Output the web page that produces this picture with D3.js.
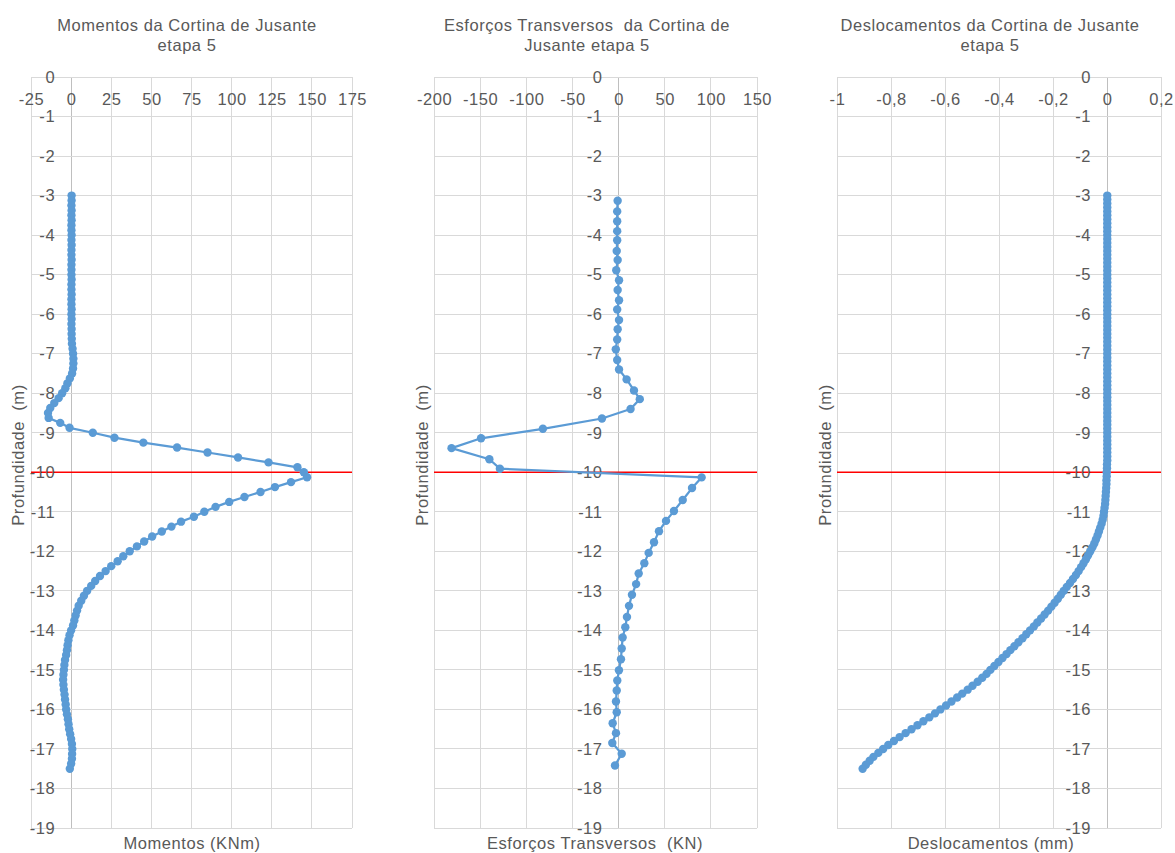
<!DOCTYPE html>
<html>
<head>
<meta charset="utf-8">
<script src="https://cdn.jsdelivr.net/npm/d3@7"></script>
<style>
  html, body { margin: 0; padding: 0; background: #fff; }
  svg { display: block; }
  text { font-family: "Liberation Sans", Arial, sans-serif; fill: #595959; white-space: pre; letter-spacing: 0.55px; }
</style>
</head>
<body>
<svg id="chart" width="1175" height="853"></svg>
<script>
// Depth ticks shared by the three profiles (m)
const depthTicks = [0, -1, -2, -3, -4, -5, -6, -7, -8, -9, -10, -11, -12, -13, -14, -15, -16, -17, -18, -19];
const cutDepth = -10;

// Bending moments (KNm) along the wall
const momentTicks = [-25, 0, 25, 50, 75, 100, 125, 150, 175];
const momentDepth = [
  -3, -3.125, -3.25, -3.375, -3.5, -3.625, -3.75, -3.875, -4, -4.125, -4.25, -4.375, -4.5, -4.625, -4.75, -4.875,
  -5, -5.125, -5.25, -5.375, -5.5, -5.625, -5.75, -5.875, -6, -6.125, -6.25, -6.375, -6.5, -6.625, -6.75, -6.875,
  -7, -7.125, -7.25, -7.375, -7.5, -7.625, -7.75, -7.875, -8, -8.125, -8.25, -8.375, -8.5, -8.625, -8.75, -8.875,
  -9, -9.125, -9.25, -9.375, -9.5, -9.625, -9.75, -9.875, -10, -10.125, -10.25, -10.375, -10.5, -10.625, -10.75, -10.875,
  -11, -11.125, -11.25, -11.375, -11.5, -11.625, -11.75, -11.875, -12, -12.125, -12.25, -12.375, -12.5, -12.625, -12.75, -12.875,
  -13, -13.125, -13.25, -13.375, -13.5, -13.625, -13.75, -13.875, -14, -14.125, -14.25, -14.375, -14.5, -14.625, -14.75, -14.875,
  -15, -15.125, -15.25, -15.375, -15.5, -15.625, -15.75, -15.875, -16, -16.125, -16.25, -16.375, -16.5, -16.625, -16.75, -16.875,
  -17, -17.125, -17.25, -17.375, -17.5
];
const momentValues = [
  0.3, 0.3, 0.2, 0.3, 0.2, 0.3, 0.2, 0.2, 0.3, 0.2, 0.3, 0.2, 0.2, 0.3, 0.2, 0.2,
  0.2, 0.3, 0.2, 0.2, 0.3, 0.2, 0.2, 0.3, 0.2, 0.3, 0.2, 0.3, 0.3, 0.4, 0.5, 0.9,
  1.2, 1.4, 1.4, 1.2, 0.6, -0.8, -2.3, -3.6, -5.6, -7.8, -10.5, -13, -14.4, -14, -6.8, -1,
  13.5, 27, 45, 66, 85, 104, 123, 141, 145, 147, 137, 127, 118, 108, 98.5, 90,
  83, 76.5, 68.5, 62.5, 56.5, 50.5, 45.5, 41, 36.5, 32.5, 29, 25, 21.5, 18, 15, 12.5,
  10, 8, 6.3, 4.7, 3.7, 2.8, 2, 1.2, 0, -1, -1.7, -2.2, -2.6, -3.1, -3.8, -4.2,
  -4.5, -4.8, -5, -4.8, -4.5, -4.1, -3.8, -3.4, -3.1, -2.6, -2, -1.6, -1.2, -0.6, 0, 0.5,
  0.7, 0.6, 0.5, 0, -0.8
];

// Shear forces (KN) along the wall
const shearTicks = [-200, -150, -100, -50, 0, 50, 100, 150];
const shearDepth = [
  -3.13, -3.4, -3.65, -3.9, -4.13, -4.4, -4.63, -4.89, -5.14, -5.39, -5.65, -5.88, -6.15, -6.38, -6.64, -6.89,
  -7.16, -7.4, -7.65, -7.93, -8.15, -8.4, -8.64, -8.9, -9.14, -9.39, -9.67, -9.91, -10.13, -10.4, -10.7, -10.98,
  -11.23, -11.49, -11.77, -12.04, -12.3, -12.56, -12.83, -13.1, -13.38, -13.66, -13.92, -14.18, -14.46, -14.73,
  -15.01, -15.27, -15.52, -15.8, -16.07, -16.35, -16.6, -16.85, -17.12, -17.42
];
const shearValues = [
  -1, -1.5, -1.5, -1.5, -1.5, -2, -1, -2.5, 0.5, -1, 0.5, -1.5, 0.5, -1, -1.5, -3,
  -1.5, 0.5, 8.7, 16.7, 23, 13, -18, -82, -149, -181, -140, -128.6, 90, 79.6, 69.5, 60,
  51.4, 43.8, 38.4, 32.6, 27.9, 21.8, 19, 14.5, 11.3, 9.1, 7.3, 4.4, 3.4, 2.6,
  0.4, -1.4, -2, -2.8, -2, -6.4, -2.8, -6.8, 3.4, -3.9
];

// Horizontal displacements (mm) along the wall
const dispTicks = [-1, -0.8, -0.6, -0.4, -0.2, 0, 0.2];
const dispDepth = [
  -3, -3.1, -3.2, -3.3, -3.4, -3.5, -3.6, -3.7, -3.8, -3.9, -4, -4.1, -4.2, -4.3, -4.4, -4.5, -4.6, -4.7, -4.8, -4.9,
  -5, -5.1, -5.2, -5.3, -5.4, -5.5, -5.6, -5.7, -5.8, -5.9, -6, -6.1, -6.2, -6.3, -6.4, -6.5, -6.6, -6.7, -6.8, -6.9,
  -7, -7.1, -7.2, -7.3, -7.4, -7.5, -7.6, -7.7, -7.8, -7.9, -8, -8.1, -8.2, -8.3, -8.4, -8.5, -8.6, -8.7, -8.8, -8.9,
  -9, -9.1, -9.2, -9.3, -9.4, -9.5, -9.6, -9.7, -9.8, -9.9, -10, -10.1, -10.2, -10.3, -10.4, -10.5, -10.6, -10.7, -10.8, -10.9,
  -11, -11.1, -11.2, -11.3, -11.4, -11.5, -11.6, -11.7, -11.8, -11.9, -12, -12.1, -12.2, -12.3, -12.4, -12.5, -12.6, -12.7, -12.8, -12.9,
  -13, -13.1, -13.2, -13.3, -13.4, -13.5, -13.6, -13.7, -13.8, -13.9, -14, -14.1, -14.2, -14.3, -14.4, -14.5, -14.6, -14.7, -14.8, -14.9,
  -15, -15.1, -15.2, -15.3, -15.4, -15.5, -15.6, -15.7, -15.8, -15.9, -16, -16.1, -16.2, -16.3, -16.4, -16.5, -16.6, -16.7, -16.8, -16.9,
  -17, -17.1, -17.2, -17.3, -17.4, -17.5
];
const dispValues = [
  0.001, 0.001, 0.001, 0.001, 0.001, 0.001, 0.001, 0.001, 0.001, 0.001, 0.001, 0.001, 0.001, 0.001, 0.001, 0.001, 0.001, 0.001, 0.001, 0.001,
  0.001, 0.001, 0.001, 0.001, 0.001, 0.001, 0.001, 0.001, 0.001, 0.001, 0.001, 0.001, 0.001, 0.001, 0.001, 0.001, 0.001, 0.001, 0.001, 0.001,
  0.001, 0.001, 0.001, 0.001, 0.001, 0.001, 0.001, 0.001, 0.001, 0.001, 0.001, 0.001, 0.001, 0.001, 0.001, 0.001, 0.001, 0.001, 0.001, 0.001,
  0.001, 0.001, 0.001, 0.001, 0.001, 0.001, 0.001, 0.001, 0, 0, -0.001, -0.001, -0.002, -0.002, -0.003, -0.004, -0.005, -0.006, -0.007, -0.009,
  -0.011, -0.013, -0.016, -0.02, -0.025, -0.03, -0.035, -0.041, -0.047, -0.054, -0.062, -0.07, -0.078, -0.087, -0.096, -0.105, -0.115, -0.126, -0.137, -0.149,
  -0.16, -0.171, -0.182, -0.194, -0.206, -0.218, -0.231, -0.244, -0.258, -0.271, -0.285, -0.299, -0.313, -0.328, -0.343, -0.358, -0.372, -0.387, -0.402, -0.417,
  -0.432, -0.446, -0.462, -0.479, -0.498, -0.516, -0.536, -0.555, -0.576, -0.596, -0.617, -0.637, -0.658, -0.68, -0.702, -0.724, -0.746, -0.768, -0.789, -0.81,
  -0.829, -0.847, -0.865, -0.879, -0.893, -0.905
];

// Plain hyphen-minus labels, decimal comma where needed
const plainFormat = d => String(d);
const commaFormat = d => String(d).replace(".", ",");

const panels = [
  {
    title: ["Momentos da Cortina de Jusante", "etapa 5"], titleX: 187,
    axisTitle: "Momentos (KNm)", axisTitleX: 192, depthTitleX: 18,
    left: 31, right: 352, ticks: momentTicks, format: plainFormat,
    depth: momentDepth, values: momentValues
  },
  {
    title: ["Esforços Transversos  da Cortina de", "Jusante etapa 5"], titleX: 587,
    axisTitle: "Esforços Transversos  (KN)", axisTitleX: 595, depthTitleX: 422,
    left: 434, right: 757, ticks: shearTicks, format: plainFormat,
    depth: shearDepth, values: shearValues
  },
  {
    title: ["Deslocamentos da Cortina de Jusante", "etapa 5"], titleX: 990,
    axisTitle: "Deslocamentos (mm)", axisTitleX: 991, depthTitleX: 825,
    left: 837, right: 1161, ticks: dispTicks, format: commaFormat,
    depth: dispDepth, values: dispValues
  }
];

const plotTop = 77, plotBottom = 828;
const fontSize = 16.5;
const y = d3.scaleLinear().domain([0, -19]).range([plotTop, plotBottom]);
const svg = d3.select("#chart");
const blue = "#5B9BD5";

panels.forEach(p => {
  const ticks = p.ticks;
  const x = d3.scaleLinear().domain([ticks[0], ticks[ticks.length - 1]]).range([p.left, p.right]);
  const g = svg.append("g");

  // gridlines
  g.append("g").selectAll("line").data(ticks).join("line")
    .attr("x1", d => x(d)).attr("x2", d => x(d))
    .attr("y1", plotTop).attr("y2", plotBottom)
    .attr("stroke", d => d === 0 ? "#bfbfbf" : "#d9d9d9").attr("stroke-width", 1)
    .attr("shape-rendering", "crispEdges");
  g.append("g").selectAll("line").data(depthTicks).join("line")
    .attr("x1", p.left).attr("x2", p.right)
    .attr("y1", d => y(d)).attr("y2", d => y(d))
    .attr("stroke", "#d9d9d9").attr("stroke-width", 1)
    .attr("shape-rendering", "crispEdges");

  // excavation level
  g.append("line")
    .attr("x1", x(ticks[0])).attr("x2", x(ticks[ticks.length - 1]))
    .attr("y1", y(cutDepth)).attr("y2", y(cutDepth))
    .attr("stroke", "#ff0000").attr("stroke-width", 1.5);

  // value axis labels along the top
  const xAxis = d3.axisBottom(x).tickValues(ticks).tickSize(0).tickPadding(16).tickFormat(p.format);
  const xg = g.append("g").attr("transform", `translate(0,${plotTop})`).call(xAxis);
  xg.select(".domain").remove();
  xg.attr("font-family", null).attr("font-size", null);
  xg.selectAll("text").attr("font-size", fontSize).attr("fill", "#595959");

  // depth labels beside the zero line
  const yAxis = d3.axisLeft(y).tickValues(depthTicks).tickSize(0).tickPadding(16).tickFormat(plainFormat);
  const yg = g.append("g").attr("transform", `translate(${x(0)},0)`).call(yAxis);
  yg.select(".domain").remove();
  yg.attr("font-family", null).attr("font-size", null);
  yg.selectAll("text").attr("font-size", fontSize).attr("fill", "#595959");

  // profile
  const pts = p.depth.map((d, i) => ({ d, v: p.values[i] }));
  const line = d3.line().x(d => x(d.v)).y(d => y(d.d));
  g.append("path").datum(pts).attr("d", line)
    .attr("fill", "none").attr("stroke", blue).attr("stroke-width", 2.25)
    .attr("stroke-linejoin", "round");
  g.append("g").selectAll("circle").data(pts).join("circle")
    .attr("cx", d => x(d.v)).attr("cy", d => y(d.d)).attr("r", 4.2)
    .attr("fill", blue);

  // titles
  const t = g.append("text").attr("text-anchor", "middle").attr("font-size", fontSize);
  p.title.forEach((s, i) => t.append("tspan").attr("x", p.titleX).attr("y", 31 + i * 20).text(s));
  g.append("text").attr("text-anchor", "middle").attr("font-size", fontSize)
    .attr("x", p.axisTitleX).attr("y", 849).text(p.axisTitle);
  g.append("text").attr("text-anchor", "middle").attr("font-size", fontSize)
    .attr("transform", `translate(${p.depthTitleX + 6},455) rotate(-90)`)
    .text("Profundidade  (m)");
});
</script>
</body>
</html>
